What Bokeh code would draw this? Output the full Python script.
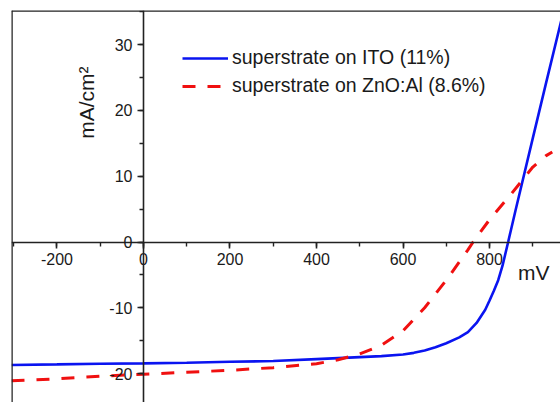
import numpy as np
from bokeh.plotting import figure
from bokeh.models import (LinearAxis, SingleIntervalTicker, Legend, LegendItem,
                          Span, Label, Range1d, PrintfTickFormatter)
from bokeh.embed import file_html
from bokeh.resources import INLINE

# data (mV, mA/cm2)
ito_v = [-305, -200, -100, 0, 100, 200, 300, 400, 500, 550, 600, 625, 650, 675, 700,
         730, 750, 770, 790, 800, 810, 820, 830, 843, 860, 900, 930, 970]
ito_j = [-18.7, -18.6, -18.5, -18.45, -18.35, -18.2, -18.1, -17.8, -17.5, -17.35,
         -17.1, -16.85, -16.5, -16.0, -15.4, -14.5, -13.7, -12.3, -10.3, -8.9, -7.4,
         -5.8, -3.6, 0.0, 4.8, 15.8, 24.0, 34.8]
zno_v = [-305, -200, -100, 0, 100, 200, 300, 400, 450, 500, 550, 600, 650, 700,
         750, 762, 800, 850, 900, 930, 945]
zno_j = [-21.1, -20.8, -20.4, -20.1, -19.8, -19.5, -19.1, -18.5, -17.9, -17.0,
         -15.7, -13.5, -10.0, -5.8, -1.2, 0.0, 3.4, 7.3, 11.4, 13.1, 13.7]
labels = ["superstrate on ITO (11%)", "superstrate on ZnO:Al (8.6%)"]
x_lo, x_hi = -305, 964
y_lo, y_hi = -24.4, 35.2

FONT = "Liberation Sans"
TXT = "#1a1a1a"

p = figure(width=560, height=402, output_backend="svg", toolbar_location=None,
           x_range=Range1d(x_lo, x_hi), y_range=Range1d(y_lo, y_hi),
           x_axis_location=None, y_axis_location=None,
           min_border_left=11, min_border_top=10, min_border_right=0, min_border_bottom=0)
p.grid.visible = False
p.outline_line_color = None
p.background_fill_color = "white"
p.border_fill_color = "white"

xa = LinearAxis(fixed_location=0, ticker=SingleIntervalTicker(interval=200, num_minor_ticks=2))
ya = LinearAxis(fixed_location=0, ticker=SingleIntervalTicker(interval=10, num_minor_ticks=2))
for ax in (xa, ya):
    ax.formatter = PrintfTickFormatter(format="%d")
    ax.axis_line_color = "#222222"
    ax.axis_line_width = 1.6
    ax.major_tick_line_color = "#222222"
    ax.major_tick_line_width = 1.6
    ax.minor_tick_line_color = "#222222"
    ax.minor_tick_line_width = 1.4
    ax.major_tick_out = 6
    ax.major_tick_in = 0
    ax.minor_tick_out = 4
    ax.minor_tick_in = 0
    ax.major_label_text_font = FONT
    ax.major_label_text_font_size = "16px"
    ax.major_label_text_color = TXT
    ax.major_label_standoff = 5
p.add_layout(xa, "below")
p.add_layout(ya, "left")

# frame border (left and top visible in the cropped original)
p.add_layout(Span(location=x_lo, dimension="height", line_color="#222222", line_width=2.5))
p.add_layout(Span(location=y_hi, dimension="width", line_color="#222222", line_width=2.5))

r1 = p.line(ito_v, ito_j, line_color="#0a14f0", line_width=2.6)
r2 = p.line(zno_v, zno_j, line_color="#f01010", line_width=3, line_dash="13 12")

legend = Legend(items=[LegendItem(label=labels[0], renderers=[r1]),
                       LegendItem(label=labels[1], renderers=[r2])],
                location=(171, 305), background_fill_alpha=0, border_line_color=None,
                label_text_font=FONT, label_text_font_size="19.5px", label_text_color=TXT,
                glyph_width=46, glyph_height=20, label_height=20, spacing=5,
                padding=0, margin=0, label_standoff=4)
p.add_layout(legend)

p.add_layout(Label(x=902, y=-4.6, text="mV", text_font=FONT, text_font_size="21px",
                   text_color=TXT, text_align="center", text_baseline="middle"))
p.add_layout(Label(x=-132, y=21.2, text="mA/cm²", angle=np.pi / 2, text_font=FONT,
                   text_font_size="21px", text_color=TXT, text_align="center",
                   text_baseline="middle"))

open("out.html", "w").write(file_html(p, INLINE))
